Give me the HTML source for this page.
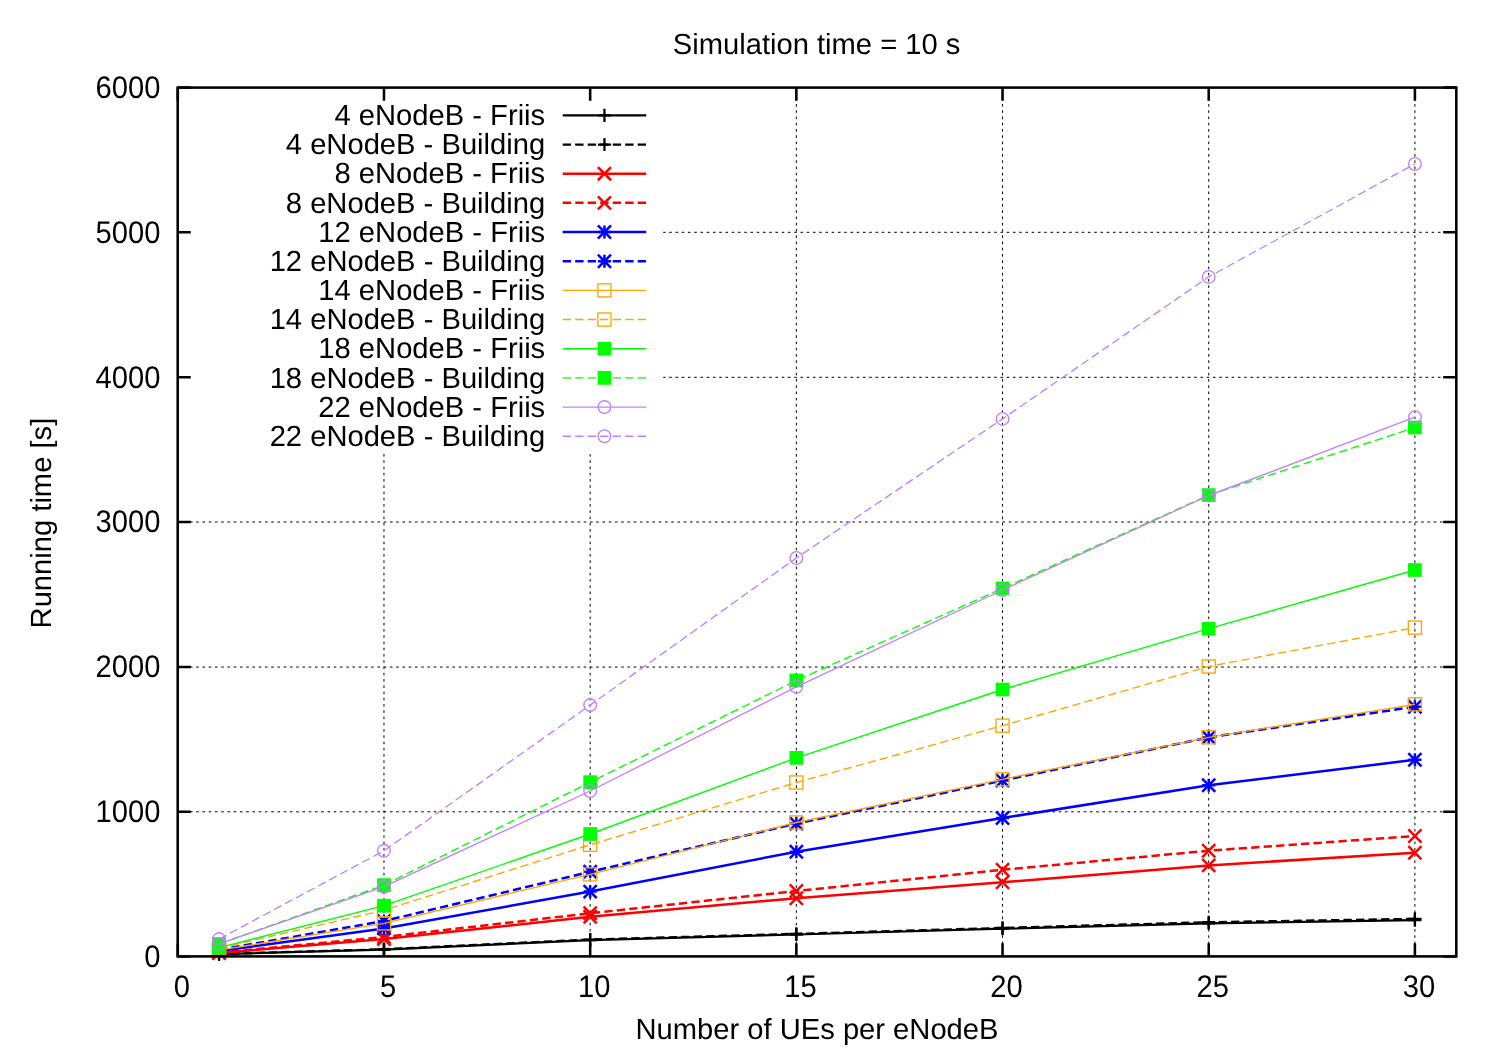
<!DOCTYPE html>
<html lang="en"><head><meta charset="utf-8"><title>Simulation time = 10 s</title>
<style>html,body{margin:0;padding:0;background:#fff}body{width:1500px;height:1050px;overflow:hidden}svg{display:block}text{font-family:"Liberation Sans",Arial,Helvetica,sans-serif;font-size:29.17px;fill:#000;text-rendering:geometricPrecision;font-kerning:none}</style></head><body>
<svg width="1500" height="1050" viewBox="0 0 1500 1050">
<rect width="1500" height="1050" fill="#fff"/>
<path d="M177.7 811.8H1456.3M177.7 667.05H1456.3M177.7 522H1456.3M663.2 377.3H1456.3M663.2 232.3H1456.3M383.98 956.4V452M590.17 956.4V452M796.35 956.4V87.6M1002.53 956.4V87.6M1208.72 956.4V87.6M1414.9 956.4V87.6" stroke="#000" stroke-width="1" stroke-dasharray="2.6 3.65" stroke-dashoffset="0.26" fill="none"/>
<text x="545.2" y="125.07" text-anchor="end">4 eNodeB - Friis</text>
<path d="M562.7 115.35H646.2" stroke="#000000" stroke-width="2.25" fill="none"/>
<path d="M597.89 115.35H611.01M604.45 108.79V121.91" stroke="#000000" stroke-width="2.25" fill="none"/>
<text x="545.2" y="154.24" text-anchor="end">4 eNodeB - Building</text>
<path d="M562.7 144.52H646.2" stroke="#000000" stroke-width="2.25" stroke-dasharray="8.33 4.17" fill="none"/>
<path d="M597.89 144.52H611.01M604.45 137.96V151.08" stroke="#000000" stroke-width="2.25" fill="none"/>
<text x="545.2" y="183.41" text-anchor="end">8 eNodeB - Friis</text>
<path d="M562.7 173.69H646.2" stroke="#ff0000" stroke-width="2.5" fill="none"/>
<path d="M597.89 167.13L611.01 180.25M597.89 180.25L611.01 167.13" stroke="#ff0000" stroke-width="2.5" fill="none"/>
<text x="545.2" y="212.58" text-anchor="end">8 eNodeB - Building</text>
<path d="M562.7 202.86H646.2" stroke="#ff0000" stroke-width="2.5" stroke-dasharray="8.33 4.17" fill="none"/>
<path d="M597.89 196.3L611.01 209.42M597.89 209.42L611.01 196.3" stroke="#ff0000" stroke-width="2.5" fill="none"/>
<text x="545.2" y="241.75" text-anchor="end">12 eNodeB - Friis</text>
<path d="M562.7 232.03H646.2" stroke="#0000ff" stroke-width="2.5" fill="none"/>
<path d="M597.89 232.03H611.01M604.45 225.47V238.59" stroke="#0000ff" stroke-width="2.5" fill="none"/><path d="M597.89 225.47L611.01 238.59M597.89 238.59L611.01 225.47" stroke="#0000ff" stroke-width="2.5" fill="none"/>
<text x="545.2" y="270.92" text-anchor="end">12 eNodeB - Building</text>
<path d="M562.7 261.2H646.2" stroke="#0000ff" stroke-width="2.5" stroke-dasharray="8.33 4.17" fill="none"/>
<path d="M597.89 261.2H611.01M604.45 254.64V267.76" stroke="#0000ff" stroke-width="2.5" fill="none"/><path d="M597.89 254.64L611.01 267.76M597.89 267.76L611.01 254.64" stroke="#0000ff" stroke-width="2.5" fill="none"/>
<text x="545.2" y="300.09" text-anchor="end">14 eNodeB - Friis</text>
<path d="M562.7 290.37H646.2" stroke="#ffa500" stroke-width="1.35" fill="none"/>
<rect x="597.89" y="283.81" width="13.12" height="13.12" stroke="#ffa500" stroke-width="1.35" fill="none"/>
<text x="545.2" y="329.26" text-anchor="end">14 eNodeB - Building</text>
<path d="M562.7 319.54H646.2" stroke="#ffa500" stroke-width="1.35" stroke-dasharray="8.33 4.17" fill="none"/>
<rect x="597.89" y="312.98" width="13.12" height="13.12" stroke="#ffa500" stroke-width="1.35" fill="none"/>
<text x="545.2" y="358.43" text-anchor="end">18 eNodeB - Friis</text>
<path d="M562.7 348.71H646.2" stroke="#00ff00" stroke-width="1.35" fill="none"/>
<rect x="597.59" y="341.85" width="13.72" height="13.72" fill="#00ff00"/>
<text x="545.2" y="387.6" text-anchor="end">18 eNodeB - Building</text>
<path d="M562.7 377.88H646.2" stroke="#00ff00" stroke-width="1.35" stroke-dasharray="8.33 4.17" fill="none"/>
<rect x="597.59" y="371.02" width="13.72" height="13.72" fill="#00ff00"/>
<text x="545.2" y="416.77" text-anchor="end">22 eNodeB - Friis</text>
<path d="M562.7 407.05H646.2" stroke="#c080ff" stroke-width="1.35" fill="none"/>
<circle cx="604.45" cy="407.05" r="6.31" stroke="#c080ff" stroke-width="1.35" fill="none"/>
<text x="545.2" y="445.94" text-anchor="end">22 eNodeB - Building</text>
<path d="M562.7 436.22H646.2" stroke="#c080ff" stroke-width="1.35" stroke-dasharray="8.33 4.17" fill="none"/>
<circle cx="604.45" cy="436.22" r="6.31" stroke="#c080ff" stroke-width="1.35" fill="none"/>
<polyline points="219.04,954.1 383.98,949.6 590.17,940.1 796.35,934.5 1002.53,928.7 1208.72,923.3 1414.9,920.1" stroke="#000000" stroke-width="2.25" fill="none" stroke-linejoin="round"/>
<path d="M212.48 954.1H225.6M219.04 947.54V960.66" stroke="#000000" stroke-width="2.25" fill="none"/>
<path d="M377.42 949.6H390.54M383.98 943.04V956.16" stroke="#000000" stroke-width="2.25" fill="none"/>
<path d="M583.61 940.1H596.73M590.17 933.54V946.66" stroke="#000000" stroke-width="2.25" fill="none"/>
<path d="M789.79 934.5H802.91M796.35 927.94V941.06" stroke="#000000" stroke-width="2.25" fill="none"/>
<path d="M995.97 928.7H1009.09M1002.53 922.14V935.26" stroke="#000000" stroke-width="2.25" fill="none"/>
<path d="M1202.16 923.3H1215.28M1208.72 916.74V929.86" stroke="#000000" stroke-width="2.25" fill="none"/>
<path d="M1408.34 920.1H1421.46M1414.9 913.54V926.66" stroke="#000000" stroke-width="2.25" fill="none"/>
<polyline points="219.04,954 383.98,949.2 590.17,939.5 796.35,933.8 1002.53,927.9 1208.72,922.2 1414.9,918.8" stroke="#000000" stroke-width="2.25" stroke-dasharray="8.33 4.17" fill="none" stroke-linejoin="round"/>
<path d="M212.48 954H225.6M219.04 947.44V960.56" stroke="#000000" stroke-width="2.25" fill="none"/>
<path d="M377.42 949.2H390.54M383.98 942.64V955.76" stroke="#000000" stroke-width="2.25" fill="none"/>
<path d="M583.61 939.5H596.73M590.17 932.94V946.06" stroke="#000000" stroke-width="2.25" fill="none"/>
<path d="M789.79 933.8H802.91M796.35 927.24V940.36" stroke="#000000" stroke-width="2.25" fill="none"/>
<path d="M995.97 927.9H1009.09M1002.53 921.34V934.46" stroke="#000000" stroke-width="2.25" fill="none"/>
<path d="M1202.16 922.2H1215.28M1208.72 915.64V928.76" stroke="#000000" stroke-width="2.25" fill="none"/>
<path d="M1408.34 918.8H1421.46M1414.9 912.24V925.36" stroke="#000000" stroke-width="2.25" fill="none"/>
<polyline points="219.04,953.1 383.98,939 590.17,916.8 796.35,898.2 1002.53,882.3 1208.72,865.4 1414.9,852.7" stroke="#ff0000" stroke-width="2.5" fill="none" stroke-linejoin="round"/>
<path d="M212.48 946.54L225.6 959.66M212.48 959.66L225.6 946.54" stroke="#ff0000" stroke-width="2.5" fill="none"/>
<path d="M377.42 932.44L390.54 945.56M377.42 945.56L390.54 932.44" stroke="#ff0000" stroke-width="2.5" fill="none"/>
<path d="M583.61 910.24L596.73 923.36M583.61 923.36L596.73 910.24" stroke="#ff0000" stroke-width="2.5" fill="none"/>
<path d="M789.79 891.64L802.91 904.76M789.79 904.76L802.91 891.64" stroke="#ff0000" stroke-width="2.5" fill="none"/>
<path d="M995.97 875.74L1009.09 888.86M995.97 888.86L1009.09 875.74" stroke="#ff0000" stroke-width="2.5" fill="none"/>
<path d="M1202.16 858.84L1215.28 871.96M1202.16 871.96L1215.28 858.84" stroke="#ff0000" stroke-width="2.5" fill="none"/>
<path d="M1408.34 846.14L1421.46 859.26M1408.34 859.26L1421.46 846.14" stroke="#ff0000" stroke-width="2.5" fill="none"/>
<polyline points="219.04,952.7 383.98,937 590.17,913.3 796.35,891 1002.53,869.8 1208.72,850.7 1414.9,836" stroke="#ff0000" stroke-width="2.5" stroke-dasharray="8.33 4.17" fill="none" stroke-linejoin="round"/>
<path d="M212.48 946.14L225.6 959.26M212.48 959.26L225.6 946.14" stroke="#ff0000" stroke-width="2.5" fill="none"/>
<path d="M377.42 930.44L390.54 943.56M377.42 943.56L390.54 930.44" stroke="#ff0000" stroke-width="2.5" fill="none"/>
<path d="M583.61 906.74L596.73 919.86M583.61 919.86L596.73 906.74" stroke="#ff0000" stroke-width="2.5" fill="none"/>
<path d="M789.79 884.44L802.91 897.56M789.79 897.56L802.91 884.44" stroke="#ff0000" stroke-width="2.5" fill="none"/>
<path d="M995.97 863.24L1009.09 876.36M995.97 876.36L1009.09 863.24" stroke="#ff0000" stroke-width="2.5" fill="none"/>
<path d="M1202.16 844.14L1215.28 857.26M1202.16 857.26L1215.28 844.14" stroke="#ff0000" stroke-width="2.5" fill="none"/>
<path d="M1408.34 829.44L1421.46 842.56M1408.34 842.56L1421.46 829.44" stroke="#ff0000" stroke-width="2.5" fill="none"/>
<polyline points="219.04,951.1 383.98,928.4 590.17,891.6 796.35,851.7 1002.53,818 1208.72,785.3 1414.9,759.8" stroke="#0000ff" stroke-width="2.5" fill="none" stroke-linejoin="round"/>
<path d="M212.48 951.1H225.6M219.04 944.54V957.66" stroke="#0000ff" stroke-width="2.5" fill="none"/><path d="M212.48 944.54L225.6 957.66M212.48 957.66L225.6 944.54" stroke="#0000ff" stroke-width="2.5" fill="none"/>
<path d="M377.42 928.4H390.54M383.98 921.84V934.96" stroke="#0000ff" stroke-width="2.5" fill="none"/><path d="M377.42 921.84L390.54 934.96M377.42 934.96L390.54 921.84" stroke="#0000ff" stroke-width="2.5" fill="none"/>
<path d="M583.61 891.6H596.73M590.17 885.04V898.16" stroke="#0000ff" stroke-width="2.5" fill="none"/><path d="M583.61 885.04L596.73 898.16M583.61 898.16L596.73 885.04" stroke="#0000ff" stroke-width="2.5" fill="none"/>
<path d="M789.79 851.7H802.91M796.35 845.14V858.26" stroke="#0000ff" stroke-width="2.5" fill="none"/><path d="M789.79 845.14L802.91 858.26M789.79 858.26L802.91 845.14" stroke="#0000ff" stroke-width="2.5" fill="none"/>
<path d="M995.97 818H1009.09M1002.53 811.44V824.56" stroke="#0000ff" stroke-width="2.5" fill="none"/><path d="M995.97 811.44L1009.09 824.56M995.97 824.56L1009.09 811.44" stroke="#0000ff" stroke-width="2.5" fill="none"/>
<path d="M1202.16 785.3H1215.28M1208.72 778.74V791.86" stroke="#0000ff" stroke-width="2.5" fill="none"/><path d="M1202.16 778.74L1215.28 791.86M1202.16 791.86L1215.28 778.74" stroke="#0000ff" stroke-width="2.5" fill="none"/>
<path d="M1408.34 759.8H1421.46M1414.9 753.24V766.36" stroke="#0000ff" stroke-width="2.5" fill="none"/><path d="M1408.34 753.24L1421.46 766.36M1408.34 766.36L1421.46 753.24" stroke="#0000ff" stroke-width="2.5" fill="none"/>
<polyline points="219.04,949.8 383.98,921 590.17,871.8 796.35,823.6 1002.53,780.5 1208.72,737.4 1414.9,706.7" stroke="#0000ff" stroke-width="2.5" stroke-dasharray="8.33 4.17" fill="none" stroke-linejoin="round"/>
<path d="M212.48 949.8H225.6M219.04 943.24V956.36" stroke="#0000ff" stroke-width="2.5" fill="none"/><path d="M212.48 943.24L225.6 956.36M212.48 956.36L225.6 943.24" stroke="#0000ff" stroke-width="2.5" fill="none"/>
<path d="M377.42 921H390.54M383.98 914.44V927.56" stroke="#0000ff" stroke-width="2.5" fill="none"/><path d="M377.42 914.44L390.54 927.56M377.42 927.56L390.54 914.44" stroke="#0000ff" stroke-width="2.5" fill="none"/>
<path d="M583.61 871.8H596.73M590.17 865.24V878.36" stroke="#0000ff" stroke-width="2.5" fill="none"/><path d="M583.61 865.24L596.73 878.36M583.61 878.36L596.73 865.24" stroke="#0000ff" stroke-width="2.5" fill="none"/>
<path d="M789.79 823.6H802.91M796.35 817.04V830.16" stroke="#0000ff" stroke-width="2.5" fill="none"/><path d="M789.79 817.04L802.91 830.16M789.79 830.16L802.91 817.04" stroke="#0000ff" stroke-width="2.5" fill="none"/>
<path d="M995.97 780.5H1009.09M1002.53 773.94V787.06" stroke="#0000ff" stroke-width="2.5" fill="none"/><path d="M995.97 773.94L1009.09 787.06M995.97 787.06L1009.09 773.94" stroke="#0000ff" stroke-width="2.5" fill="none"/>
<path d="M1202.16 737.4H1215.28M1208.72 730.84V743.96" stroke="#0000ff" stroke-width="2.5" fill="none"/><path d="M1202.16 730.84L1215.28 743.96M1202.16 743.96L1215.28 730.84" stroke="#0000ff" stroke-width="2.5" fill="none"/>
<path d="M1408.34 706.7H1421.46M1414.9 700.14V713.26" stroke="#0000ff" stroke-width="2.5" fill="none"/><path d="M1408.34 700.14L1421.46 713.26M1408.34 713.26L1421.46 700.14" stroke="#0000ff" stroke-width="2.5" fill="none"/>
<polyline points="219.04,950.2 383.98,923.4 590.17,874.4 796.35,822.5 1002.53,779.3 1208.72,737.3 1414.9,704.3" stroke="#ffa500" stroke-width="1.35" fill="none" stroke-linejoin="round"/>
<rect x="212.48" y="943.64" width="13.12" height="13.12" stroke="#ffa500" stroke-width="1.35" fill="none"/>
<rect x="377.42" y="916.84" width="13.12" height="13.12" stroke="#ffa500" stroke-width="1.35" fill="none"/>
<rect x="583.61" y="867.84" width="13.12" height="13.12" stroke="#ffa500" stroke-width="1.35" fill="none"/>
<rect x="789.79" y="815.94" width="13.12" height="13.12" stroke="#ffa500" stroke-width="1.35" fill="none"/>
<rect x="995.97" y="772.74" width="13.12" height="13.12" stroke="#ffa500" stroke-width="1.35" fill="none"/>
<rect x="1202.16" y="730.74" width="13.12" height="13.12" stroke="#ffa500" stroke-width="1.35" fill="none"/>
<rect x="1408.34" y="697.74" width="13.12" height="13.12" stroke="#ffa500" stroke-width="1.35" fill="none"/>
<polyline points="219.04,948.3 383.98,910.2 590.17,844.8 796.35,782.5 1002.53,725.7 1208.72,666.5 1414.9,627.6" stroke="#ffa500" stroke-width="1.35" stroke-dasharray="8.33 4.17" fill="none" stroke-linejoin="round"/>
<rect x="212.48" y="941.74" width="13.12" height="13.12" stroke="#ffa500" stroke-width="1.35" fill="none"/>
<rect x="377.42" y="903.64" width="13.12" height="13.12" stroke="#ffa500" stroke-width="1.35" fill="none"/>
<rect x="583.61" y="838.24" width="13.12" height="13.12" stroke="#ffa500" stroke-width="1.35" fill="none"/>
<rect x="789.79" y="775.94" width="13.12" height="13.12" stroke="#ffa500" stroke-width="1.35" fill="none"/>
<rect x="995.97" y="719.14" width="13.12" height="13.12" stroke="#ffa500" stroke-width="1.35" fill="none"/>
<rect x="1202.16" y="659.94" width="13.12" height="13.12" stroke="#ffa500" stroke-width="1.35" fill="none"/>
<rect x="1408.34" y="621.04" width="13.12" height="13.12" stroke="#ffa500" stroke-width="1.35" fill="none"/>
<polyline points="219.04,947.6 383.98,905.7 590.17,834 796.35,757.8 1002.53,689.5 1208.72,628.7 1414.9,570" stroke="#00ff00" stroke-width="1.35" fill="none" stroke-linejoin="round"/>
<rect x="212.18" y="940.74" width="13.72" height="13.72" fill="#00ff00"/>
<rect x="377.12" y="898.84" width="13.72" height="13.72" fill="#00ff00"/>
<rect x="583.31" y="827.14" width="13.72" height="13.72" fill="#00ff00"/>
<rect x="789.49" y="750.94" width="13.72" height="13.72" fill="#00ff00"/>
<rect x="995.67" y="682.64" width="13.72" height="13.72" fill="#00ff00"/>
<rect x="1201.86" y="621.84" width="13.72" height="13.72" fill="#00ff00"/>
<rect x="1408.04" y="563.14" width="13.72" height="13.72" fill="#00ff00"/>
<polyline points="219.04,944 383.98,885.1 590.17,782.2 796.35,680.5 1002.53,588.4 1208.72,495.1 1414.9,427.5" stroke="#00ff00" stroke-width="1.35" stroke-dasharray="8.33 4.17" fill="none" stroke-linejoin="round"/>
<rect x="212.18" y="937.14" width="13.72" height="13.72" fill="#00ff00"/>
<rect x="377.12" y="878.24" width="13.72" height="13.72" fill="#00ff00"/>
<rect x="583.31" y="775.34" width="13.72" height="13.72" fill="#00ff00"/>
<rect x="789.49" y="673.64" width="13.72" height="13.72" fill="#00ff00"/>
<rect x="995.67" y="581.54" width="13.72" height="13.72" fill="#00ff00"/>
<rect x="1201.86" y="488.24" width="13.72" height="13.72" fill="#00ff00"/>
<rect x="1408.04" y="420.64" width="13.72" height="13.72" fill="#00ff00"/>
<polyline points="219.04,943.9 383.98,886.7 590.17,791 796.35,686.8 1002.53,590 1208.72,495.5 1414.9,417.2" stroke="#c080ff" stroke-width="1.35" fill="none" stroke-linejoin="round"/>
<circle cx="219.04" cy="943.9" r="6.31" stroke="#c080ff" stroke-width="1.35" fill="none"/>
<circle cx="383.98" cy="886.7" r="6.31" stroke="#c080ff" stroke-width="1.35" fill="none"/>
<circle cx="590.17" cy="791" r="6.31" stroke="#c080ff" stroke-width="1.35" fill="none"/>
<circle cx="796.35" cy="686.8" r="6.31" stroke="#c080ff" stroke-width="1.35" fill="none"/>
<circle cx="1002.53" cy="590" r="6.31" stroke="#c080ff" stroke-width="1.35" fill="none"/>
<circle cx="1208.72" cy="495.5" r="6.31" stroke="#c080ff" stroke-width="1.35" fill="none"/>
<circle cx="1414.9" cy="417.2" r="6.31" stroke="#c080ff" stroke-width="1.35" fill="none"/>
<polyline points="219.04,939.1 383.98,850.8 590.17,705.1 796.35,558 1002.53,418.9 1208.72,276.9 1414.9,164" stroke="#c080ff" stroke-width="1.35" stroke-dasharray="8.33 4.17" fill="none" stroke-linejoin="round"/>
<circle cx="219.04" cy="939.1" r="6.31" stroke="#c080ff" stroke-width="1.35" fill="none"/>
<circle cx="383.98" cy="850.8" r="6.31" stroke="#c080ff" stroke-width="1.35" fill="none"/>
<circle cx="590.17" cy="705.1" r="6.31" stroke="#c080ff" stroke-width="1.35" fill="none"/>
<circle cx="796.35" cy="558" r="6.31" stroke="#c080ff" stroke-width="1.35" fill="none"/>
<circle cx="1002.53" cy="418.9" r="6.31" stroke="#c080ff" stroke-width="1.35" fill="none"/>
<circle cx="1208.72" cy="276.9" r="6.31" stroke="#c080ff" stroke-width="1.35" fill="none"/>
<circle cx="1414.9" cy="164" r="6.31" stroke="#c080ff" stroke-width="1.35" fill="none"/>
<rect x="177.7" y="87.6" width="1278.6" height="868.8" stroke="#000" stroke-width="2.55" fill="none"/>
<path d="M177.7 956.4h13.1M1456.3 956.4h-13.1M177.7 811.8h13.1M1456.3 811.8h-13.1M177.7 667.05h13.1M1456.3 667.05h-13.1M177.7 522h13.1M1456.3 522h-13.1M177.7 377.3h13.1M1456.3 377.3h-13.1M177.7 232.3h13.1M1456.3 232.3h-13.1M177.7 87.6h13.1M1456.3 87.6h-13.1M177.8 956.4v-13.1M177.8 87.6v13.1M383.98 956.4v-13.1M383.98 87.6v13.1M590.17 956.4v-13.1M590.17 87.6v13.1M796.35 956.4v-13.1M796.35 87.6v13.1M1002.53 956.4v-13.1M1002.53 87.6v13.1M1208.72 956.4v-13.1M1208.72 87.6v13.1M1414.9 956.4v-13.1M1414.9 87.6v13.1" stroke="#000" stroke-width="2.55" fill="none"/>
<text transform="translate(160.4 966.77) scale(1 1.07)" text-anchor="end">0</text>
<text transform="translate(160.4 822.17) scale(1 1.07)" text-anchor="end">1000</text>
<text transform="translate(160.4 677.42) scale(1 1.07)" text-anchor="end">2000</text>
<text transform="translate(160.4 532.37) scale(1 1.07)" text-anchor="end">3000</text>
<text transform="translate(160.4 387.67) scale(1 1.07)" text-anchor="end">4000</text>
<text transform="translate(160.4 242.67) scale(1 1.07)" text-anchor="end">5000</text>
<text transform="translate(160.4 97.97) scale(1 1.07)" text-anchor="end">6000</text>
<text transform="translate(181.85 996.5) scale(1 1.07)" text-anchor="middle">0</text>
<text transform="translate(388.03 996.5) scale(1 1.07)" text-anchor="middle">5</text>
<text transform="translate(594.22 996.5) scale(1 1.07)" text-anchor="middle">10</text>
<text transform="translate(800.4 996.5) scale(1 1.07)" text-anchor="middle">15</text>
<text transform="translate(1006.58 996.5) scale(1 1.07)" text-anchor="middle">20</text>
<text transform="translate(1212.77 996.5) scale(1 1.07)" text-anchor="middle">25</text>
<text transform="translate(1418.95 996.5) scale(1 1.07)" text-anchor="middle">30</text>
<text x="816.6" y="53.6" text-anchor="middle">Simulation time = 10 s</text>
<text x="817" y="1038.7" text-anchor="middle">Number of UEs per eNodeB</text>
<text transform="translate(51.0 523.1) rotate(-90)" text-anchor="middle">Running time [s]</text>
</svg></body></html>
